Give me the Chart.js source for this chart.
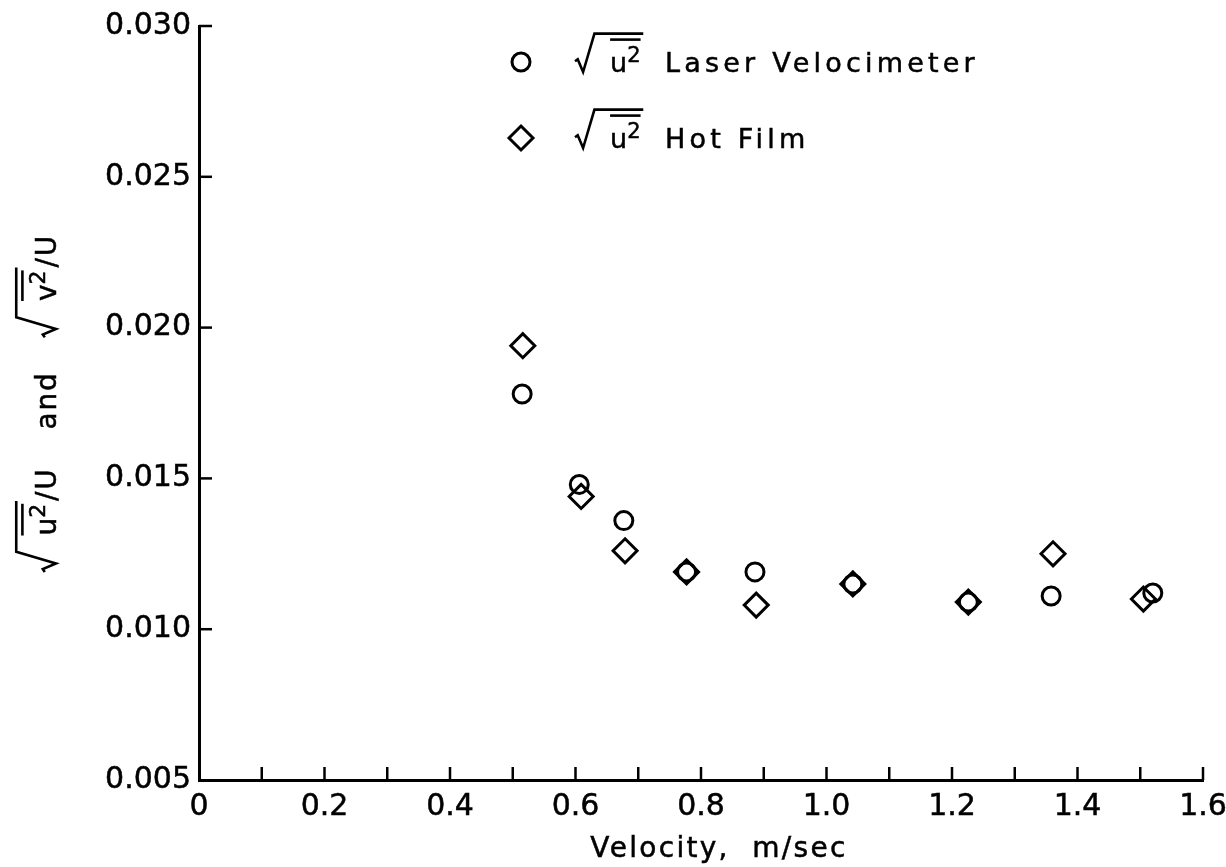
<!DOCTYPE html>
<html lang="en">
<head>
<meta charset="UTF-8">
<title>Turbulence intensity vs velocity</title>
<script src="https://cdn.jsdelivr.net/npm/chart.js"></script>
<style>
  body { margin: 0; background: #fff; }
  canvas { display: block; }
</style>
</head>
<body>
<canvas id="chart" width="1226" height="867"></canvas>
<script>
// values
const laserVelocity   = [0.515, 0.606, 0.677, 0.777, 0.886, 1.042, 1.226, 1.358, 1.520];
const laserIntensity  = [0.0178, 0.0148, 0.0136, 0.0119, 0.0119, 0.0115, 0.0109, 0.0111, 0.0112];
const hotFilmVelocity  = [0.516, 0.609, 0.679, 0.777, 0.888, 1.042, 1.226, 1.361, 1.505];
const hotFilmIntensity = [0.0194, 0.0144, 0.0126, 0.0119, 0.0108, 0.0115, 0.0109, 0.0125, 0.0110];
const seriesNames = ['Laser Velocimeter', 'Hot Film'];
const xTitle = 'Velocity,  m/sec';
const yTitleParts = [{ root: 'u' }, { text: '/U' }, { gap: 38 }, { text: 'and' }, { gap: 34 }, { root: 'v' }, { text: '/U' }];

const FONT = '"DejaVu Sans", sans-serif';

function toPoints(xs, ys) {
  return xs.map((x, i) => ({ x: x, y: ys[i] }));
}

function text(ctx, str, x, y) {
  ctx.lineWidth = 0.5;
  ctx.strokeText(str, x, y);
  ctx.fillText(str, x, y);
}

// radical sign over "base" with superscript 2 and a mean bar; returns end x
function drawRoot(ctx, x, by, base, s, dry) {
  ctx.letterSpacing = '0px';
  ctx.font = s + 'px ' + FONT;
  const baseW = ctx.measureText(base).width;
  const supSize = Math.round(s * 0.78);
  ctx.font = supSize + 'px ' + FONT;
  const supW = ctx.measureText('2').width;
  const innerX = x + 1.3 * s;
  const end = innerX + baseW + supW + 0.1 * s;
  if (dry) return end;
  ctx.lineWidth = 2.6;
  ctx.beginPath();
  ctx.moveTo(x, by - 0.4 * s);
  ctx.lineTo(x + 0.1 * s, by - 0.47 * s);
  ctx.lineTo(x + 0.3 * s, by);
  ctx.lineTo(x + 0.72 * s, by - 1.42 * s);
  ctx.lineTo(end, by - 1.42 * s);
  ctx.stroke();
  ctx.beginPath();
  ctx.moveTo(innerX, by - 1.2 * s);
  ctx.lineTo(innerX + baseW + supW, by - 1.2 * s);
  ctx.stroke();
  ctx.font = s + 'px ' + FONT;
  text(ctx, base, innerX, by);
  ctx.font = supSize + 'px ' + FONT;
  text(ctx, '2', innerX + baseW, by - 0.38 * s);
  return end;
}

function drawParts(ctx, parts, x, by, s, spacing, dry) {
  let cx = x;
  parts.forEach(p => {
    if (p.gap) { cx += p.gap; return; }
    if (p.root) { cx = drawRoot(ctx, cx, by, p.root, s, dry); return; }
    ctx.font = s + 'px ' + FONT;
    ctx.letterSpacing = spacing + 'px';
    if (!dry) text(ctx, p.text, cx, by);
    cx += ctx.measureText(p.text).width;
    ctx.letterSpacing = '0px';
  });
  return cx - x;
}

function drawMarker(ctx, style, x, y) {
  ctx.lineWidth = 3;
  ctx.beginPath();
  if (style === 'circle') {
    ctx.arc(x, y, 9, 0, Math.PI * 2);
  } else {
    ctx.moveTo(x - 12, y);
    ctx.lineTo(x, y - 12);
    ctx.lineTo(x + 12, y);
    ctx.lineTo(x, y + 12);
    ctx.closePath();
  }
  ctx.stroke();
}

const decorations = {
  id: 'decorations',
  beforeDraw(chart) {
    const ctx = chart.ctx;
    ctx.save();
    ctx.fillStyle = '#fff';
    ctx.fillRect(0, 0, chart.width, chart.height);
    ctx.restore();
  },
  afterDraw(chart) {
    const ctx = chart.ctx;
    const area = chart.chartArea;
    const xs = chart.scales.x, ys = chart.scales.y;
    ctx.save();
    ctx.strokeStyle = '#000';
    ctx.fillStyle = '#000';
    ctx.textBaseline = 'alphabetic';

    // inward tick marks
    ctx.lineWidth = 2.5;
    xs.ticks.forEach(t => {
      if (t.value <= xs.min) return;
      const px = xs.getPixelForValue(t.value);
      ctx.beginPath();
      ctx.moveTo(px, area.bottom);
      ctx.lineTo(px, area.bottom - 13);
      ctx.stroke();
    });
    ys.ticks.forEach(t => {
      if (t.value <= ys.min) return;
      const py = ys.getPixelForValue(t.value);
      ctx.beginPath();
      ctx.moveTo(area.left, py);
      ctx.lineTo(area.left + 13, py);
      ctx.stroke();
    });

    // legend
    const styles = ['circle', 'rectRot'];
    const rows = [area.top + 46, area.top + 122];
    seriesNames.forEach((name, i) => {
      drawMarker(ctx, styles[i], area.left + 322, rows[i] - 10);
      drawRoot(ctx, area.left + 376, rows[i], 'u', 27, false);
      ctx.font = '27px ' + FONT;
      ctx.letterSpacing = '4.2px';
      text(ctx, name, area.left + 466, rows[i]);
      ctx.letterSpacing = '0px';
    });

    // x title
    ctx.font = '28px ' + FONT;
    ctx.letterSpacing = '2.3px';
    ctx.textAlign = 'center';
    text(ctx, xTitle, (area.left + area.right) / 2 + 18, chart.height - 10);
    ctx.letterSpacing = '0px';
    ctx.textAlign = 'left';

    // y title, rotated
    const w = drawParts(ctx, yTitleParts, 0, 0, 28, 1.8, true);
    ctx.translate(56, (area.top + area.bottom) / 2 + w / 2);
    ctx.rotate(-Math.PI / 2);
    drawParts(ctx, yTitleParts, 0, 0, 28, 1.8, false);
    ctx.restore();
  }
};

const tickFont = { family: FONT, size: 30 };

new Chart(document.getElementById('chart'), {
  type: 'scatter',
  data: {
    datasets: [{
      label: seriesNames[0],
      data: toPoints(laserVelocity, laserIntensity),
      pointStyle: 'circle',
      pointRadius: 9,
      pointBorderWidth: 3,
      pointBorderColor: '#000',
      pointBackgroundColor: 'rgba(0,0,0,0)',
      showLine: false
    }, {
      label: seriesNames[1],
      data: toPoints(hotFilmVelocity, hotFilmIntensity),
      pointStyle: 'rectRot',
      pointRadius: 12,
      pointBorderWidth: 3,
      pointBorderColor: '#000',
      pointBackgroundColor: 'rgba(0,0,0,0)',
      showLine: false
    }]
  },
  options: {
    responsive: false,
    animation: false,
    events: [],
    layout: { padding: { top: 26, right: 23, bottom: 0, left: 0 } },
    plugins: {
      legend: { display: false },
      tooltip: { enabled: false }
    },
    scales: {
      x: {
        type: 'linear',
        min: 0,
        max: 1.6,
        afterFit(scale) {
          scale.height = 87;
          scale.paddingLeft = 0;
          scale.paddingRight = 0;
        },
        border: { display: true, color: '#000', width: 3 },
        grid: { drawOnChartArea: false, drawTicks: false },
        ticks: {
          stepSize: 0.1,
          autoSkip: false,
          maxRotation: 0,
          padding: 9,
          color: '#000',
          textStrokeColor: '#000',
          textStrokeWidth: 0.5,
          font: tickFont,
          callback: (v, i) => i % 2 === 0 ? (v === 0 ? '0' : v.toFixed(1)) : ''
        }
      },
      y: {
        type: 'linear',
        min: 0.005,
        max: 0.030,
        afterFit(scale) {
          scale.width = 199;
          scale.paddingTop = 0;
          scale.paddingBottom = 0;
        },
        border: { display: true, color: '#000', width: 3 },
        grid: { drawOnChartArea: false, drawTicks: false },
        ticks: {
          stepSize: 0.005,
          padding: 8,
          color: '#000',
          textStrokeColor: '#000',
          textStrokeWidth: 0.5,
          font: tickFont,
          callback: v => v.toFixed(3)
        }
      }
    }
  },
  plugins: [decorations]
});
</script>
</body>
</html>
